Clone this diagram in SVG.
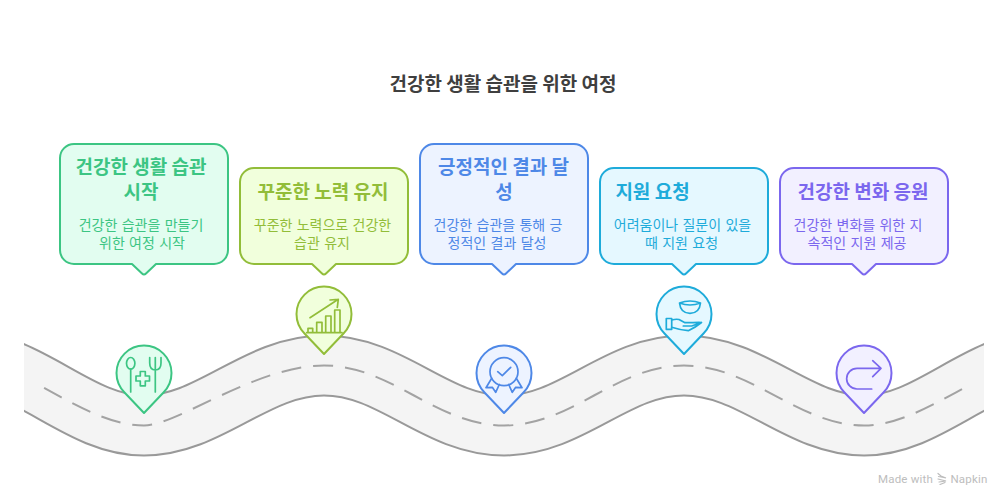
<svg xmlns="http://www.w3.org/2000/svg" width="1008" height="504" viewBox="0 0 1008 504">
<style>
text{font-family:"Noto Sans CJK KR","Noto Sans",sans-serif;text-anchor:middle}
.title{font-size:19px;font-weight:700;fill:#3f3f3f}
.h{font-size:19px;font-weight:700}
.d{font-size:14px;font-weight:400;word-spacing:1.2px}
.box,.pin{stroke-width:2;stroke-linejoin:round}
.ic{fill:none;stroke-width:1.7;stroke-linecap:round;stroke-linejoin:round}
.c1 .box,.c1 .pin{fill:#e2fdf0;stroke:#3cc583}.c1 text{fill:#3cc583}.c1 .ic{stroke:#3cc583}
.c2 .box,.c2 .pin{fill:#f1ffdc;stroke:#92bd39}.c2 text{fill:#92bd39}.c2 .ic{stroke:#92bd39}
.c3 .box,.c3 .pin{fill:#edf3ff;stroke:#4e88e7}.c3 text{fill:#4e88e7}.c3 .ic{stroke:#4e88e7}
.c4 .box,.c4 .pin{fill:#e5f8ff;stroke:#1eabda}.c4 text{fill:#1eabda}.c4 .ic{stroke:#1eabda}
.c5 .box,.c5 .pin{fill:#f2f0ff;stroke:#7b67ee}.c5 text{fill:#7b67ee}.c5 .ic{stroke:#7b67ee}
.road{fill:none}
.wm{font-family:Roboto,sans-serif;font-size:11.500px;font-weight:400;fill:#bdbdbd;letter-spacing:.2px}
</style>
<defs>
<clipPath id="rc"><rect x="24" y="300" width="960" height="180"/></clipPath>
<path id="tall" d="M14 144H154A14 14 0 0 1 168 158V250A14 14 0 0 1 154 264H96L86 273.5Q84 275.5 82 273.5L72 264H14A14 14 0 0 1 0 250V158A14 14 0 0 1 14 144Z"/>
<path id="short" d="M14 168H154A14 14 0 0 1 168 182V250A14 14 0 0 1 154 264H96L86 273.5Q84 275.5 82 273.5L72 264H14A14 14 0 0 1 0 250V182A14 14 0 0 1 14 168Z"/>
<path id="pinp" d="M0 0L-19.5 -20.5A27.5 27.5 0 1 1 19.5 -20.5Z"/>
<path id="sine" d="M-36 361C29.600 361 78.400 425.500 144 425.500S256 365.500 324 365.500S436 425.500 504 425.500S616 365.500 684 365.500S798.400 425.500 864 425.500S978.400 361 1044 361"/>
</defs>
<text class="title" x="503" y="90.500">건강한 생활 습관을 위한 여정</text>
<g id="connectors">
<g clip-path="url(#rc)">
<use href="#sine" class="road" stroke="#999999" stroke-width="62"/>
<use href="#sine" class="road" stroke="#f4f4f4" stroke-width="58"/>
</g>
<path id="lane" d="M41.500 386.500C75 405 110.700 425.500 144 425.500S256 365.500 324 365.500S436 425.500 504 425.500S616 365.500 684 365.500S798.400 425.500 864 425.500C897.300 425.500 930.700 406 964 388" fill="none" stroke="#a3a3a3" stroke-width="2" stroke-dasharray="20 12" stroke-dashoffset="-3"/>
</g>
<g id="node1" class="c1">
<use href="#tall" x="60" class="box"/>
<text class="h" x="141" y="174">건강한 생활 습관</text>
<text class="h" x="141" y="199">시작</text>
<text class="d" x="141" y="230">건강한 습관을 만들기</text>
<text class="d" x="142" y="248">위한 여정 시작</text>
<use href="#pinp" x="144" y="413" class="pin"/>
<g class="ic">
<ellipse cx="130.700" cy="363.300" rx="4.200" ry="5.800"/><path d="M130.700 369V392"/>
<path d="M149.700 357.500V363Q149.700 370 155.300 370Q161 370 161 363V357.500M155.300 357.500V392"/>
<path d="M140.300 371.500H145.300V376H149.500V381H145.300V385.800H140.300V381H136V376H140.300Z"/>
</g>
</g>
<g id="node2" class="c2">
<use href="#short" x="240" class="box"/>
<text class="h" x="323" y="199">꾸준한 노력 유지</text>
<text class="d" x="322.500" y="230">꾸준한 노력으로 건강한</text>
<text class="d" x="322" y="248">습관 유지</text>
<use href="#pinp" x="324" y="354" class="pin"/>
<g class="ic">
<path d="M306.700 332.700H342M308 332.700V328.300H312.700V332.700M316.700 332.700V322.300H322V332.700M325.700 332.700V316H331V332.700M334.700 332.700V310H340V332.700"/>
<path d="M310 317.700L338.300 299.300M330 300L338.300 299.300L337.300 307.300"/>
</g>
</g>
<g id="node3" class="c3">
<use href="#tall" x="420" class="box"/>
<text class="h" x="503.500" y="174">긍정적인 결과 달</text>
<text class="h" x="504" y="199">성</text>
<text class="d" x="498" y="230">건강한 습관을 통해 긍</text>
<text class="d" x="497" y="248">정적인 결과 달성</text>
<use href="#pinp" x="504" y="413" class="pin"/>
<g class="ic">
<circle cx="504" cy="371.700" r="14"/>
<path d="M497.700 371.700L502.300 375.700L510.700 367.300"/>
<path d="M491.700 378.300L486 387.700L492.300 387.300L495.700 392.300L499.300 384.500M516.300 378.300L522 387.700L515.700 387.300L512.300 392.300L508.700 384.500"/>
</g>
</g>
<g id="node4" class="c4">
<use href="#short" x="600" class="box"/>
<text class="h" x="652.500" y="199">지원 요청</text>
<text class="d" x="682.500" y="230">어려움이나 질문이 있을</text>
<text class="d" x="681.500" y="248">때 지원 요청</text>
<use href="#pinp" x="684" y="354" class="pin"/>
<g class="ic">
<path d="M679.500 303Q690 299 700.500 303Q690 307 679.500 303ZM679.500 303Q680.500 313.300 690 313.300Q699.500 313.300 700.500 303"/>
<path d="M666.300 318.500H671.700V329.300H666.300Z"/>
<path d="M671.700 320Q676 318.800 679 319.500L685 322.700H693Q699 322 701.500 322.500Q696 327 688.300 330.700Q680 330 671.700 327.300M683.300 326H691.700L701.500 322.500"/>
</g>
</g>
<g id="node5" class="c5">
<use href="#short" x="780" class="box"/>
<text class="h" x="863" y="199">건강한 변화 응원</text>
<text class="d" x="858" y="230">건강한 변화를 위한 지</text>
<text class="d" x="857" y="248">속적인 지원 제공</text>
<use href="#pinp" x="864" y="413" class="pin"/>
<g class="ic">
<path d="M871.700 389H857A10.300 10.300 0 0 1 857 368.300H881M872.700 360.700L881 368.300L872.700 376.700"/>
</g>
</g>
<g id="watermark" fill="none" stroke="#bdbdbd" stroke-width="1.200" stroke-linecap="round">
<path d="M938 473.500L941 476L946 478L938.500 476.500M938 479L946 481L939 482M940 484.500L945 482.500"/>
</g>
<text class="wm" x="905.500" y="483">Made with</text>
<text class="wm" x="969" y="483">Napkin</text>
</svg>
